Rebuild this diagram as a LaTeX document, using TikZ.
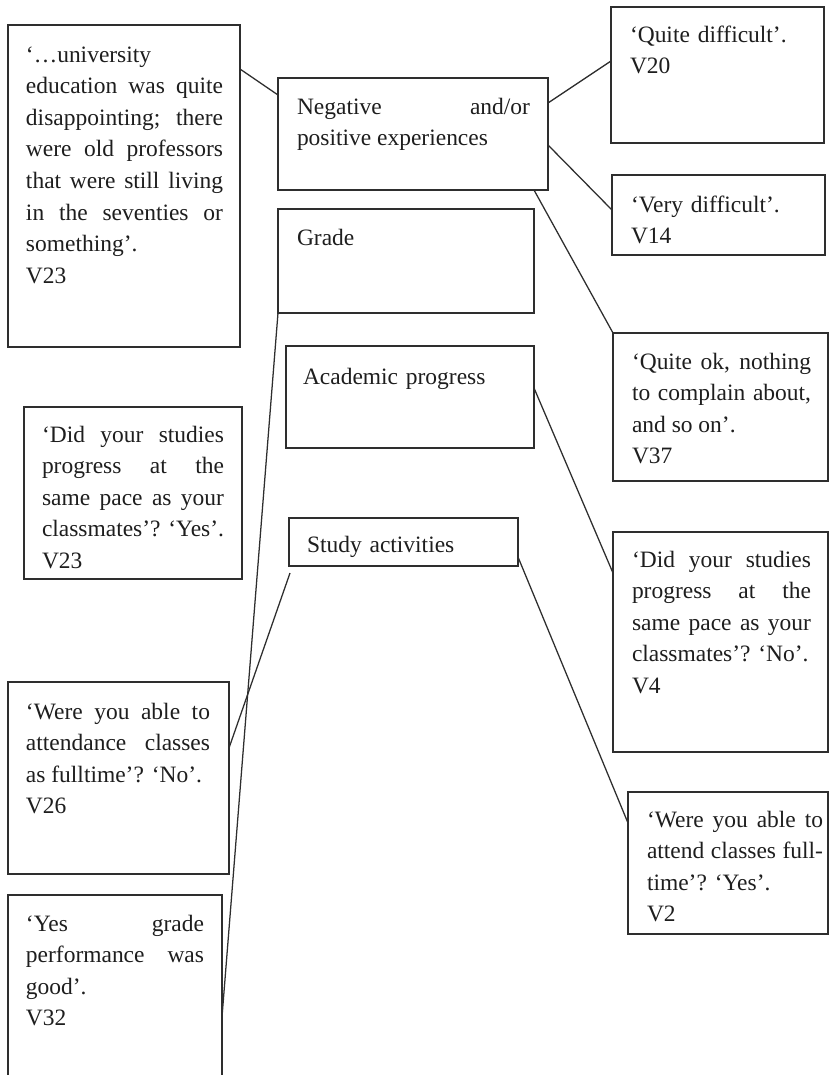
\documentclass[tikz,border=0pt]{standalone}
\usepackage{fontspec}
\setmainfont{Liberation Serif}
\usetikzlibrary{calc}
\newdimen\pxu \pxu=0.75pt
\hbadness=10000 \tolerance=10000 \hyphenpenalty=10000
\newcommand\bstrut{\noindent\strut}
\definecolor{linegray}{HTML}{2E2E2E}
\definecolor{textgray}{HTML}{1E1E1E}
\begin{document}
\begin{tikzpicture}[x=0.75pt,y=-0.75pt,
  box/.style={draw=linegray, line width=1.05pt, inner sep=0pt, outer sep=0pt, anchor=north west},
  txt/.style={inner sep=0pt, outer sep=0pt, anchor=north west, align=justify, text=textgray,
    font=\fontsize{17.6}{23.7}\selectfont},
  conn/.style={draw=linegray, line width=0.95pt}]
\clip (0,0) rectangle (829,1075);
\fill[white] (0,0) rectangle (829,1075);
% boxes
\node[box, minimum width=232\pxu, minimum height=322\pxu] (b1) at (8,25) {};
\node[box, minimum width=270\pxu, minimum height=112\pxu] (neg) at (278,78) {};
\node[box, minimum width=256\pxu, minimum height=104\pxu] (grade) at (278,209) {};
\node[box, minimum width=213\pxu, minimum height=136\pxu] (qd) at (611,7) {};
\node[box, minimum width=213\pxu, minimum height=80\pxu] (vd) at (612,175) {};
\node[box, minimum width=215\pxu, minimum height=148\pxu] (qok) at (613,333) {};
\node[box, minimum width=248\pxu, minimum height=102\pxu] (ap) at (286,346) {};
\node[box, minimum width=218\pxu, minimum height=172\pxu] (dsy) at (24,407) {};
\node[box, minimum width=229\pxu, minimum height=48\pxu] (sa) at (289,518) {};
\node[box, minimum width=215\pxu, minimum height=220\pxu] (dsn) at (613,532) {};
\node[box, minimum width=221\pxu, minimum height=192\pxu] (wno) at (8,682) {};
\node[box, minimum width=200\pxu, minimum height=142\pxu] (wyes) at (628,792) {};
\node[box, minimum width=214\pxu, minimum height=200\pxu] (v32) at (8,895) {};
% texts
\node[txt, text width=197\pxu] (t1) at (26,40) {\bstrut‘…university\linebreak education was quite\linebreak disappointing; there\linebreak were old professors\linebreak that were still living\linebreak in the seventies or\linebreak something’.\\ V23};
\node[txt, text width=233\pxu] (tneg) at (297,92) {\bstrut Negative and/or\linebreak positive experiences};
\node[txt, text width=220\pxu, align=left] (tgrade) at (297,223.5) {\bstrut Grade};
\node[txt, text width=185\pxu, align=left] (tqd) at (630,20) {\bstrut‘Quite difficult’.\\ V20};
\node[txt, text width=185\pxu, align=left] (tvd) at (631,190) {\bstrut‘Very difficult’.\\ V14};
\node[txt, text width=179\pxu] (tqok) at (632,347) {\bstrut‘Quite ok, nothing\linebreak to complain about,\linebreak and so on’.\\ V37};
\node[txt, text width=220\pxu, align=left] (tap) at (303,362) {\bstrut Academic progress};
\node[txt, text width=182\pxu] (tdsy) at (42,420) {\bstrut‘Did your studies\linebreak progress at the\linebreak same pace as your\linebreak classmates’? ‘Yes’.\\ V23};
\node[txt, text width=200\pxu, align=left] (tsa) at (307,530) {\bstrut Study activities};
\node[txt, text width=179\pxu] (tdsn) at (632,545) {\bstrut‘Did your studies\linebreak progress at the\linebreak same pace as your\linebreak classmates’? ‘No’.\\ V4};
\node[txt, text width=184\pxu] (twno) at (26,697) {\bstrut‘Were you able to\linebreak attendance classes\linebreak as fulltime’? ‘No’.\\ V26};
\node[txt, text width=176\pxu] (twyes) at (647,805) {\bstrut‘Were you able to\linebreak attend classes full-\linebreak time’? ‘Yes’.\\ V2};
\node[txt, text width=178\pxu] (tv32) at (26,909) {\bstrut‘Yes grade\linebreak performance was\linebreak good’.\\ V32};
% connectors
\draw[conn] ($(b1.north east)+(0,44)$) -- ($(neg.north west)+(0,17)$);
\draw[conn] ($(neg.north east)+(0,25)$) -- ($(qd.north west)+(0,54)$);
\draw[conn] ($(neg.north east)+(0,67)$) -- ($(vd.north west)+(0,35)$);
\draw[conn] ($(neg.south east)+(-14,0)$) -- (qok.north west);
\draw[conn] (grade.south west) -- ($(v32.north east)+(0,122)$);
\draw[conn] ($(ap.north east)+(0,42)$) -- ($(dsn.north west)+(0,41)$);
\draw[conn] ($(sa.north east)+(0,39)$) -- ($(wyes.north west)+(0,31)$);
\draw[conn] ($(sa.south west)+(1,7)$) -- ($(wno.north east)+(0,66)$);
\end{tikzpicture}
\end{document}
